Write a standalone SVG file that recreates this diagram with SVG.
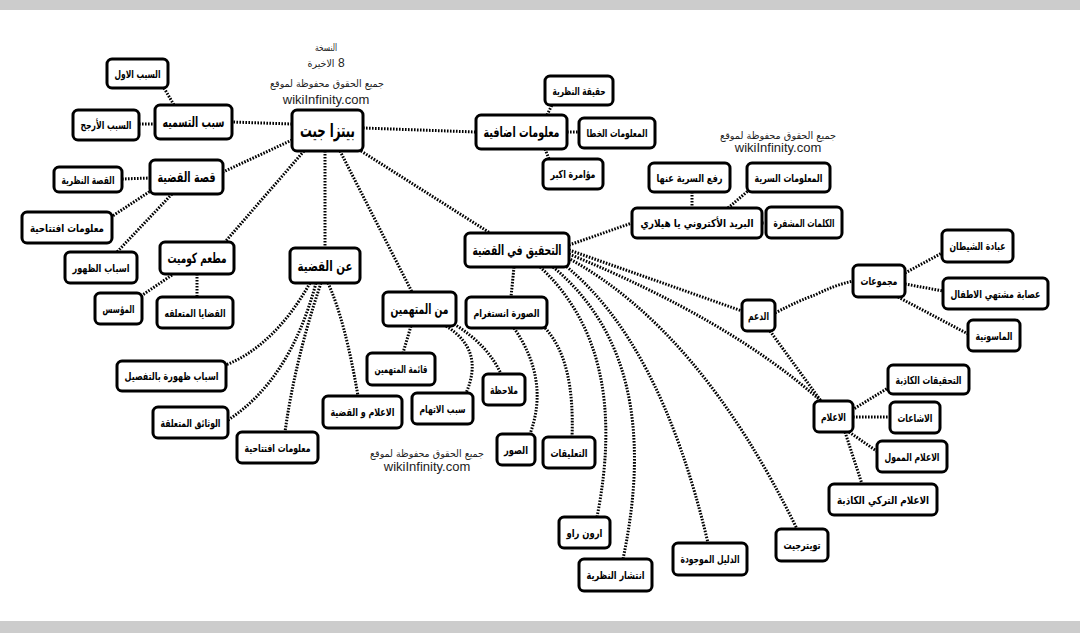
<svg xmlns="http://www.w3.org/2000/svg" width="1080" height="633" viewBox="0 0 1080 633">
<style>
.bar{fill:#cccccc}
.c path{fill:none;stroke:#000;stroke-width:3;stroke-dasharray:1.6 1.4}
.n rect{fill:#fff;stroke:#000;stroke-width:3}
.n text{font-family:"DejaVu Sans Condensed","DejaVu Sans","Liberation Sans",sans-serif;font-weight:bold;font-size:11px;text-anchor:middle;fill:#000}
.n.m text{font-size:14px}
.n.r text{font-size:19px}
.w{font-family:"DejaVu Sans Condensed","DejaVu Sans","Liberation Sans",sans-serif;font-size:10px;text-anchor:middle;fill:#222}
.w.e{font-family:"Liberation Sans",Arial,sans-serif;font-size:13px}
</style>
<rect width="1080" height="633" fill="#fff"/>
<rect class="bar" x="0" y="0" width="1080" height="10"/>
<rect class="bar" x="0" y="621" width="1080" height="12"/>

<g class="c" id="connectors">
<path d="M292,124 L232,122"/>
<path d="M292,140 L223,172"/>
<path d="M363,128 L476,132"/>
<path d="M304,151 L225,242"/>
<path d="M325,151 L325,248"/>
<path d="M340,151 L412,292"/>
<path d="M361,151 L490,233"/>
<path d="M164,88 L174,105"/>
<path d="M139,124 L155,124"/>
<path d="M122,179 L150,178"/>
<path d="M152,190 L111,217"/>
<path d="M172,194 L117,252"/>
<path d="M172,275 L141,296"/>
<path d="M197,274 L197,297"/>
<path d="M310,283 Q275,345 226,365"/>
<path d="M316,283 Q290,380 228,420"/>
<path d="M321,283 Q295,360 285,432"/>
<path d="M328,283 Q345,320 358,396"/>
<path d="M411,326 L403,353"/>
<path d="M446,326 Q485,350 466,393"/>
<path d="M454,324 Q488,345 501,374"/>
<path d="M514,328 Q550,380 530,434"/>
<path d="M545,328 Q575,360 572,437"/>
<path d="M514,267 L511,297"/>
<path d="M540,267 Q630,350 597,517"/>
<path d="M553,267 Q665,360 623,559"/>
<path d="M562,263 Q660,340 708,543"/>
<path d="M568,258 Q700,330 797,529"/>
<path d="M569,254 Q730,320 821,401"/>
<path d="M569,250 L742,311"/>
<path d="M569,245 L632,223"/>
<path d="M775,313 Q800,300 815,295 Q835,285 853,281"/>
<path d="M905,273 L942,253"/>
<path d="M905,284 L943,291"/>
<path d="M898,297 L968,334"/>
<path d="M770,331 L821,401"/>
<path d="M852,410 L888,388"/>
<path d="M853,417 L890,417"/>
<path d="M849,432 L878,452"/>
<path d="M845,432 L862,484"/>
<path d="M692,192 L692,208"/>
<path d="M728,208 L749,190"/>
<path d="M762,223 L766,223"/>
<path d="M547,115 L552,105"/>
<path d="M567,132 L579,132"/>
<path d="M545,149 L549,159"/>
</g>

<g id="watermark-top">
<text class="w" x="326" y="51" textLength="22" lengthAdjust="spacingAndGlyphs">النسخة</text>
<text class="w" x="321" y="67" textLength="27" lengthAdjust="spacingAndGlyphs">الاخيرة</text>
<text class="w e" x="338" y="67" style="text-anchor:start;font-size:12px">8</text>
<text class="w" x="327" y="87" textLength="114" lengthAdjust="spacingAndGlyphs">جميع الحقوق محفوظة لموقع</text>
<text class="w e" x="326" y="104">wikiInfinity.com</text>
</g>
<g id="watermark-right">
<text class="w" x="778" y="139" textLength="116" lengthAdjust="spacingAndGlyphs">جميع الحقوق محفوظة لموقع</text>
<text class="w e" x="778" y="152">wikiInfinity.com</text>
</g>
<g id="watermark-bottom">
<text class="w" x="427" y="457" textLength="114" lengthAdjust="spacingAndGlyphs">جميع الحقوق محفوظة لموقع</text>
<text class="w e" x="427" y="471">wikiInfinity.com</text>
</g>

<g class="n r" id="root"><rect x="292" y="110" width="71" height="41" rx="5"/><text x="327.5" y="137" textLength="55" lengthAdjust="spacingAndGlyphs">بيتزا جيت</text></g>
<g class="n m" id="n-naming"><rect x="155" y="105" width="77" height="34" rx="5"/><text x="193.5" y="127" textLength="62" lengthAdjust="spacingAndGlyphs">سبب التسميه</text></g>
<g class="n" id="n-reason1"><rect x="107" y="59" width="61" height="29" rx="5"/><text x="137.5" y="77.5" textLength="46" lengthAdjust="spacingAndGlyphs">السبب الاول</text></g>
<g class="n" id="n-reason2"><rect x="73" y="110" width="66" height="30" rx="5"/><text x="106" y="129" textLength="51" lengthAdjust="spacingAndGlyphs">السبب الأرجح</text></g>
<g class="n m" id="n-story"><rect x="150" y="160" width="73" height="34" rx="5"/><text x="186.5" y="182" textLength="58" lengthAdjust="spacingAndGlyphs">قصة القضية</text></g>
<g class="n" id="n-theory-story"><rect x="54" y="167" width="68" height="25" rx="5"/><text x="88" y="183.5" textLength="53" lengthAdjust="spacingAndGlyphs">القصة النظرية</text></g>
<g class="n" id="n-intro1"><rect x="22" y="212" width="90" height="31" rx="5"/><text x="67" y="231.5" textLength="74" lengthAdjust="spacingAndGlyphs">معلومات افتتاحية</text></g>
<g class="n" id="n-appear"><rect x="65" y="252" width="72" height="31" rx="5"/><text x="101" y="271.5" textLength="57" lengthAdjust="spacingAndGlyphs">اسباب الظهور</text></g>
<g class="n m" id="n-comet"><rect x="160" y="242" width="74" height="32" rx="5"/><text x="197" y="263" textLength="59" lengthAdjust="spacingAndGlyphs">مطعم كوميت</text></g>
<g class="n" id="n-founder"><rect x="95" y="293" width="47" height="31" rx="5"/><text x="118.5" y="312.5" textLength="32" lengthAdjust="spacingAndGlyphs">المؤسس</text></g>
<g class="n" id="n-issues"><rect x="157" y="297" width="76" height="31" rx="5"/><text x="195" y="316.5" textLength="61" lengthAdjust="spacingAndGlyphs">القضايا المتعلقه</text></g>
<g class="n m" id="n-about"><rect x="290" y="248" width="70" height="35" rx="5"/><text x="325" y="270.5" textLength="55" lengthAdjust="spacingAndGlyphs">عن القضية</text></g>
<g class="n m" id="n-accused"><rect x="383" y="292" width="73" height="34" rx="5"/><text x="419.5" y="314" textLength="58" lengthAdjust="spacingAndGlyphs">من المتهمين</text></g>
<g class="n" id="n-insta"><rect x="466" y="297" width="81" height="31" rx="5"/><text x="506.5" y="316.5" textLength="66" lengthAdjust="spacingAndGlyphs">الصورة انستغرام</text></g>
<g class="n m" id="n-invest"><rect x="465" y="233" width="104" height="34" rx="5"/><text x="517" y="255" textLength="89" lengthAdjust="spacingAndGlyphs">التحقيق في القضية</text></g>
<g class="n" id="n-list"><rect x="367" y="353" width="68" height="32" rx="5"/><text x="401" y="373" textLength="53" lengthAdjust="spacingAndGlyphs">قائمة المتهمين</text></g>
<g class="n" id="n-charge"><rect x="412" y="393" width="61" height="31" rx="5"/><text x="442.5" y="412.5" textLength="46" lengthAdjust="spacingAndGlyphs">سبب الاتهام</text></g>
<g class="n" id="n-note"><rect x="483" y="374" width="42" height="31" rx="5"/><text x="504" y="393.5" textLength="28" lengthAdjust="spacingAndGlyphs">ملاحظة</text></g>
<g class="n" id="n-media-case"><rect x="323" y="396" width="79" height="32" rx="5"/><text x="362.5" y="416" textLength="64" lengthAdjust="spacingAndGlyphs">الاعلام و القضية</text></g>
<g class="n" id="n-detail"><rect x="117" y="361" width="109" height="30" rx="5"/><text x="171.5" y="380" textLength="94" lengthAdjust="spacingAndGlyphs">اسباب ظهورة بالتفصيل</text></g>
<g class="n" id="n-docs"><rect x="153" y="407" width="75" height="31" rx="5"/><text x="190.5" y="426.5" textLength="60" lengthAdjust="spacingAndGlyphs">الوثائق المتعلقة</text></g>
<g class="n" id="n-intro2"><rect x="237" y="432" width="81" height="31" rx="5"/><text x="277.5" y="451.5" textLength="66" lengthAdjust="spacingAndGlyphs">معلومات افتتاحية</text></g>
<g class="n" id="n-photos"><rect x="497" y="434" width="38" height="31" rx="5"/><text x="516" y="453.5" textLength="24" lengthAdjust="spacingAndGlyphs">الصور</text></g>
<g class="n" id="n-comments"><rect x="543" y="437" width="52" height="31" rx="5"/><text x="569" y="456.5" textLength="37" lengthAdjust="spacingAndGlyphs">التعليقات</text></g>
<g class="n" id="n-aaron"><rect x="559" y="517" width="51" height="31" rx="5"/><text x="584.5" y="536.5" textLength="36" lengthAdjust="spacingAndGlyphs">ارون راو</text></g>
<g class="n" id="n-spread"><rect x="579" y="559" width="73" height="32" rx="5"/><text x="615.5" y="579" textLength="58" lengthAdjust="spacingAndGlyphs">انتشار النظرية</text></g>
<g class="n" id="n-evidence"><rect x="673" y="543" width="74" height="32" rx="5"/><text x="710" y="563" textLength="59" lengthAdjust="spacingAndGlyphs">الدليل الموجودة</text></g>
<g class="n" id="n-twitter"><rect x="776" y="529" width="52" height="32" rx="5"/><text x="802" y="549" textLength="37" lengthAdjust="spacingAndGlyphs">تويترجيت</text></g>
<g class="n" id="n-media"><rect x="814" y="401" width="39" height="31" rx="5"/><text x="833.5" y="420.5" textLength="25" lengthAdjust="spacingAndGlyphs">الاعلام</text></g>
<g class="n" id="n-fake-inv"><rect x="888" y="365" width="81" height="29" rx="5"/><text x="928.5" y="383.5" textLength="66" lengthAdjust="spacingAndGlyphs">التحقيقات الكاذبة</text></g>
<g class="n" id="n-rumors"><rect x="890" y="402" width="50" height="31" rx="5"/><text x="915" y="421.5" textLength="35" lengthAdjust="spacingAndGlyphs">الاشاعات</text></g>
<g class="n" id="n-funded"><rect x="877" y="441" width="70" height="31" rx="5"/><text x="912" y="460.5" textLength="55" lengthAdjust="spacingAndGlyphs">الاعلام الممول</text></g>
<g class="n" id="n-turkish"><rect x="829" y="484" width="108" height="31" rx="5"/><text x="883" y="503.5" textLength="92" lengthAdjust="spacingAndGlyphs">الاعلام التركي الكاذبة</text></g>
<g class="n" id="n-support"><rect x="742" y="300" width="33" height="31" rx="5"/><text x="758.5" y="319.5" textLength="21" lengthAdjust="spacingAndGlyphs">الدعم</text></g>
<g class="n" id="n-groups"><rect x="853" y="265" width="52" height="32" rx="5"/><text x="879" y="285" textLength="37" lengthAdjust="spacingAndGlyphs">مجموعات</text></g>
<g class="n" id="n-satan"><rect x="942" y="230" width="71" height="32" rx="5"/><text x="977.5" y="250" textLength="56" lengthAdjust="spacingAndGlyphs">عبادة الشيطان</text></g>
<g class="n" id="n-gang"><rect x="943" y="278" width="105" height="31" rx="5"/><text x="995.5" y="297.5" textLength="90" lengthAdjust="spacingAndGlyphs">عصابة مشتهي الاطفال</text></g>
<g class="n" id="n-mason"><rect x="968" y="320" width="52" height="31" rx="5"/><text x="994" y="339.5" textLength="37" lengthAdjust="spacingAndGlyphs">الماسونية</text></g>
<g class="n" id="n-code"><rect x="766" y="207" width="76" height="31" rx="5"/><text x="804" y="226.5" textLength="61" lengthAdjust="spacingAndGlyphs">الكلمات المشفرة</text></g>
<g class="n" id="n-email"><rect x="632" y="208" width="130" height="30" rx="5"/><text x="697" y="227" textLength="113" lengthAdjust="spacingAndGlyphs">البريد الأكتروني يا هيلاري</text></g>
<g class="n" id="n-declass"><rect x="649" y="163" width="81" height="29" rx="5"/><text x="689.5" y="181.5" textLength="66" lengthAdjust="spacingAndGlyphs">رفع السرية عنها</text></g>
<g class="n" id="n-secret"><rect x="747" y="163" width="83" height="29" rx="5"/><text x="788.5" y="181.5" textLength="68" lengthAdjust="spacingAndGlyphs">المعلومات السرية</text></g>
<g class="n m" id="n-extra"><rect x="476" y="115" width="91" height="34" rx="5"/><text x="521.5" y="137" textLength="76" lengthAdjust="spacingAndGlyphs">معلومات اضافية</text></g>
<g class="n" id="n-truth"><rect x="545" y="76" width="68" height="29" rx="5"/><text x="579" y="94.5" textLength="53" lengthAdjust="spacingAndGlyphs">حقيقة النظرية</text></g>
<g class="n" id="n-wrong"><rect x="579" y="118" width="76" height="30" rx="5"/><text x="617" y="137" textLength="61" lengthAdjust="spacingAndGlyphs">المعلومات الخطا</text></g>
<g class="n" id="n-bigger"><rect x="543" y="159" width="60" height="30" rx="5"/><text x="573" y="178" textLength="45" lengthAdjust="spacingAndGlyphs">مؤامرة اكبر</text></g>
</svg>
